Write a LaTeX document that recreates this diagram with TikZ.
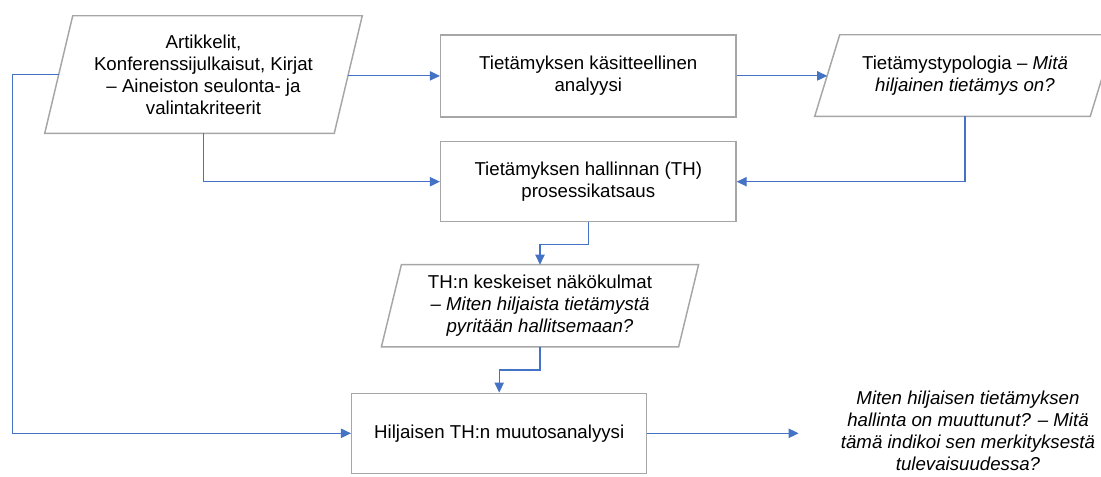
\documentclass[tikz,border=0pt]{standalone}
\usepackage{fontspec}
\setmainfont{Liberation Sans}
\usetikzlibrary{arrows.meta,calc}
\definecolor{boxgray}{HTML}{A6A6A6}
\definecolor{arrblue}{HTML}{4472C4}
\begin{document}
\begin{tikzpicture}[x=0.75pt,y=-0.75pt,
  txt/.style={font=\fontsize{14}{16.5}\selectfont, align=center, inner sep=0pt},
  rectbox/.style={txt, draw=boxgray, line width=1.1pt, rectangle},
  parabox/.style={txt, draw=none, rectangle},
  outline/.style={draw=boxgray, line width=1.1pt, line join=miter},
  arr/.style={draw=arrblue, line width=0.8pt, -{Triangle[length=7.5pt,width=7pt]}},
  link/.style={draw=arrblue, line width=0.8pt}
]
\useasboundingbox (0,0) rectangle (1101,476);

% nodes
\node[parabox, minimum width=216.75pt, minimum height=87.75pt] (p1) at (203.5,74.5)
  {Artikkelit,\\Konferenssijulkaisut, Kirjat\\– Aineiston seulonta- ja\\valintakriteerit};
\node[rectbox, minimum width=221.5pt, minimum height=61.3pt] (b1) at (588.3,75.9)
  {Tietämyksen käsitteellinen\\analyysi};
\node[parabox, minimum width=206.25pt, minimum height=60.75pt] (p2) at (965,75.5)
  {Tietämystypologia – \textit{Mitä}\\\textit{hiljainen tietämys on?}};
\node[rectbox, minimum width=221.5pt, minimum height=60pt] (b2) at (588.3,181.7)
  {Tietämyksen hallinnan (TH)\\prosessikatsaus};
\node[parabox, minimum width=222.5pt, minimum height=61.3pt] (p3) at (540,305.8)
  {TH:n keskeiset näkökulmat\\\textit{– Miten hiljaista tietämystä}\\\textit{pyritään hallitsemaan?}};
\node[rectbox, minimum width=221.25pt, minimum height=60pt] (b3) at (499.2,433.3)
  {Hiljaisen TH:n muutosanalyysi};
\node[txt, inner xsep=31.5pt] (q) at (968,431)
  {\textit{Miten hiljaisen tietämyksen}\\\textit{hallinta on muuttunut? – Mitä}\\\textit{tämä indikoi sen merkityksestä}\\\textit{tulevaisuudessa?}};

% parallelogram outlines
\draw[outline] ([xshift=10.5pt]p1.north west) -- ([xshift=10.5pt]p1.north east) -- ([xshift=-10.5pt]p1.south east) -- ([xshift=-10.5pt]p1.south west) -- cycle;
\draw[outline] ([xshift=9.375pt]p2.north west) -- ([xshift=9.375pt]p2.north east) -- ([xshift=-9.375pt]p2.south east) -- ([xshift=-9.375pt]p2.south west) -- cycle;
\draw[outline] ([xshift=7.5pt]p3.north west) -- ([xshift=7.5pt]p3.north east) -- ([xshift=-7.5pt]p3.south east) -- ([xshift=-7.5pt]p3.south west) -- cycle;

% helper coordinates
\coordinate (L) at (12.3,433.3);
\coordinate (m1) at (0,244.3);
\coordinate (m2) at (0,370);

% connectors
\draw[arr] (p1.east |- b1.west) -- (b1.west);
\draw[arr] (p1.south) |- (b2.west);
\draw[arr] (p1.west) -| (L) -- (b3.west);
\draw[arr] (b1.east) -- (b1.east -| p2.west);
\draw[arr] (p2.south) |- (b2.east);
\draw[arr] (b2.south) -- (b2.south |- m1) -| (p3.north);
\draw[arr] (p3.south) -- (p3.south |- m2) -| (b3.north);
\draw[arr] (b3.east) -- (b3.east -| q.west);
\end{tikzpicture}
\end{document}
